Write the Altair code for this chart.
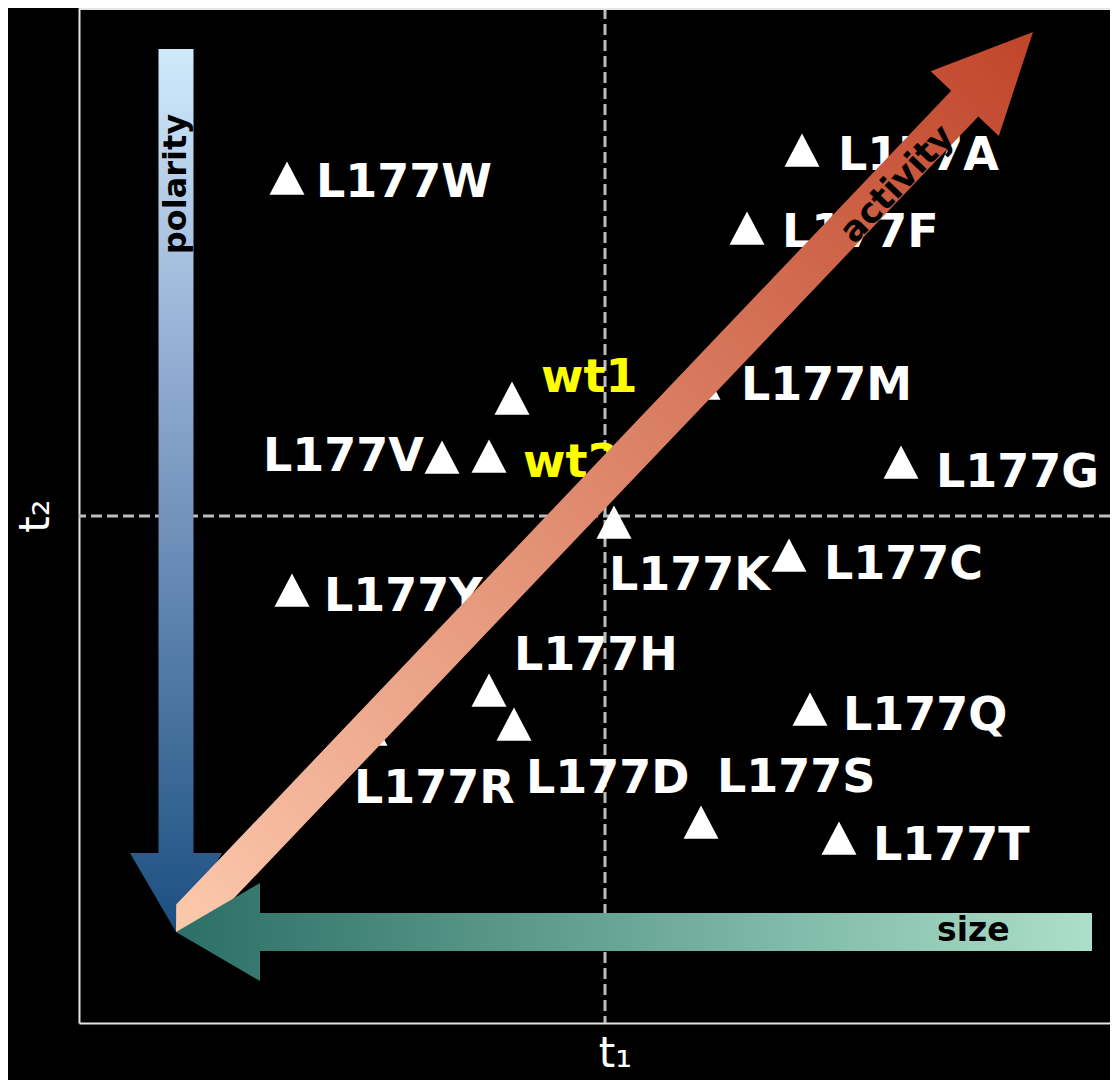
import math
import altair as alt
import pandas as pd

# ---- data ----
names = ["L177W", "L177A", "L177F", "wt1", "L177M", "L177V", "wt2", "L177G", "L177K",
         "L177C", "L177Y", "L177H", "L177Q", "L177R", "L177D", "L177S", "L177T"]
t1 = [-1.59, 0.985, 0.71, -0.465, 0.49, -0.815, -0.58, 1.48, 0.045,
      0.92, -1.565, -0.58, 1.025, -1.175, -0.455, 0.48, 1.17]
t2 = [1.69, 1.83, 1.44, 0.59, 0.665, 0.295, 0.30, 0.27, -0.03,
      -0.195, -0.37, -0.87, -0.965, -1.065, -1.04, -1.53, -1.61]

# label placement (pixel offsets of the text anchor from the marker)
label_offsets = {
    "L177W": (29, 19), "L177A": (36, 20), "L177F": (35, 19), "wt1": (29, -6),
    "L177M": (38, 17), "L177V": (-179, 14), "wt2": (34, 21), "L177G": (35, 25),
    "L177K": (-5, 68), "L177C": (35, 24), "L177Y": (32, 21), "L177H": (25, -20),
    "L177Q": (33, 21), "L177R": (-16, 74), "L177D": (12, 69), "L177S": (16, -30),
    "L177T": (34, 22),
}

df = pd.DataFrame({"name": names, "t1": t1, "t2": t2})
df["dx"] = [label_offsets[n][0] for n in names]
df["dy"] = [label_offsets[n][1] for n in names]

one = pd.DataFrame({"k": [0]})

W, H = 1031, 1015
XDOM = [-2.63, 2.525]
YDOM = [-2.535, 2.54]
PX_X = W / (XDOM[1] - XDOM[0])   # pixels per t1 unit
PX_Y = H / (YDOM[1] - YDOM[0])   # pixels per t2 unit
FONT = "DejaVu Sans"

x_enc = alt.X("t1:Q", scale=alt.Scale(domain=XDOM, zero=False, nice=False),
              axis=alt.Axis(title="t₁", labels=False, ticks=False, grid=False,
                            titleX=536, titlePadding=10))
y_enc = alt.Y("t2:Q", scale=alt.Scale(domain=YDOM, zero=False, nice=False),
              axis=alt.Axis(title="t₂", labels=False, ticks=False, grid=False,
                            titlePadding=22))

# reference dashed lines at zero
vline = alt.Chart(one).mark_rule(color="#bdbdbd", strokeWidth=3, strokeDash=[11, 5]).encode(x=alt.datum(0))
hline = alt.Chart(one).mark_rule(color="#bdbdbd", strokeWidth=3, strokeDash=[11, 5]).encode(y=alt.datum(0))
topline = alt.Chart(one).mark_rule(color="#e6e6e6", strokeWidth=2).encode(
    x=alt.value(0), x2=alt.value(W), y=alt.value(1))

tri = "M0,-0.95L1,0.95L-1,0.95Z"
points = alt.Chart(df).mark_point(shape=tri, size=1225, filled=True, color="white", opacity=1).encode(
    x=x_enc, y=y_enc)

labels = alt.Chart(df).transform_calculate(
    lx=f"datum.t1 + datum.dx / {PX_X}",
    ly=f"datum.t2 - datum.dy / {PX_Y}",
).mark_text(font=FONT, fontWeight="bold", fontSize=46, align="left",
            baseline="alphabetic").encode(
    x="lx:Q", y="ly:Q",
    text="name:N",
    color=alt.condition("indexof(datum.name, 'wt') === 0", alt.value("#ffff00"), alt.value("#ffffff")),
)

# ---- decorative gradient arrows (pixel geometry relative to the meeting point) ----
CX, CY = 97, 924  # meeting point of the three arrows, in plot pixels


def path_of(pts):
    return "M" + "L".join(f"{x:.1f},{y:.1f}" for x, y in pts) + "Z"


blue_path = path_of([(-17.5, -883), (17.5, -883), (17.5, -79), (46, -79), (0, 0), (-46, -79), (-17.5, -79)])
teal_path = path_of([(0, 0), (84, -49), (84, -19), (916, -19), (916, 19), (84, 19), (84, 49)])

tip = (857.0, -900.0)
L = math.hypot(*tip)
u = (tip[0] / L, tip[1] / L)
n = (-u[1], u[0])


def uv(a, b):
    return (a * u[0] + b * n[0], a * u[1] + b * n[1])


hw, hh, hl = 18.7, 47, 99
orange_path = path_of([uv(0, 0), uv(20, hw), uv(L - hl, hw), uv(L - hl, hh), uv(L, 0),
                       uv(L - hl, -hh), uv(L - hl, -hw), uv(20, -hw)])

blue_grad = {"gradient": "linear", "x1": 0, "y1": 0, "x2": 0, "y2": 1,
             "stops": [{"offset": 0, "color": "#d0eafb"}, {"offset": 0.35, "color": "#93add3"},
                       {"offset": 1, "color": "#1b4f80"}]}
teal_grad = {"gradient": "linear", "x1": 0, "y1": 0, "x2": 1, "y2": 0,
             "stops": [{"offset": 0, "color": "#2b6f66"}, {"offset": 1, "color": "#abdfc9"}]}
orange_grad = {"gradient": "linear", "x1": 0, "y1": 1, "x2": 1, "y2": 0,
               "stops": [{"offset": 0, "color": "#fcc9ad"}, {"offset": 1, "color": "#c0452a"}]}


def arrow(path, grad):
    return alt.Chart(one).mark_point(shape=path, size=4, filled=True, fill=grad, strokeWidth=0,
                                     opacity=1).encode(x=alt.value(CX), y=alt.value(CY))


blue = arrow(blue_path, blue_grad)
orange = arrow(orange_path, orange_grad)
teal = arrow(teal_path, teal_grad)

angle_act = (360 - math.degrees(math.atan2(900, 857))) % 360

txt_pol = alt.Chart(one).mark_text(text="polarity", font=FONT, fontWeight="bold", fontSize=32,
                                   angle=270, color="black", align="center", baseline="middle").encode(
    x=alt.value(97), y=alt.value(176))
txt_act = alt.Chart(one).mark_text(text="activity", font=FONT, fontWeight="bold", fontSize=35,
                                   angle=angle_act, color="black", align="center", baseline="middle").encode(
    x=alt.value(818), y=alt.value(176))
txt_size = alt.Chart(one).mark_text(text="size", font=FONT, fontWeight="bold", fontSize=33,
                                    color="black", align="left", baseline="middle").encode(
    x=alt.value(858), y=alt.value(923))

chart = alt.layer(
    vline, hline, topline, points, labels, blue, orange, teal, txt_pol, txt_act, txt_size
).properties(
    width=W, height=H, background="#000000",
    autosize=alt.AutoSizeParams(type="none"),
    padding={"left": 71, "top": 0, "right": 0, "bottom": 57},
).configure_view(strokeWidth=0).configure_axis(
    domainColor="#e6e6e6", domainWidth=2, titleColor="white", titleFont=FONT,
    titleFontSize=42, titleFontWeight="normal",
)

chart.save("out.html", embed_options={"renderer": "svg", "actions": False})
